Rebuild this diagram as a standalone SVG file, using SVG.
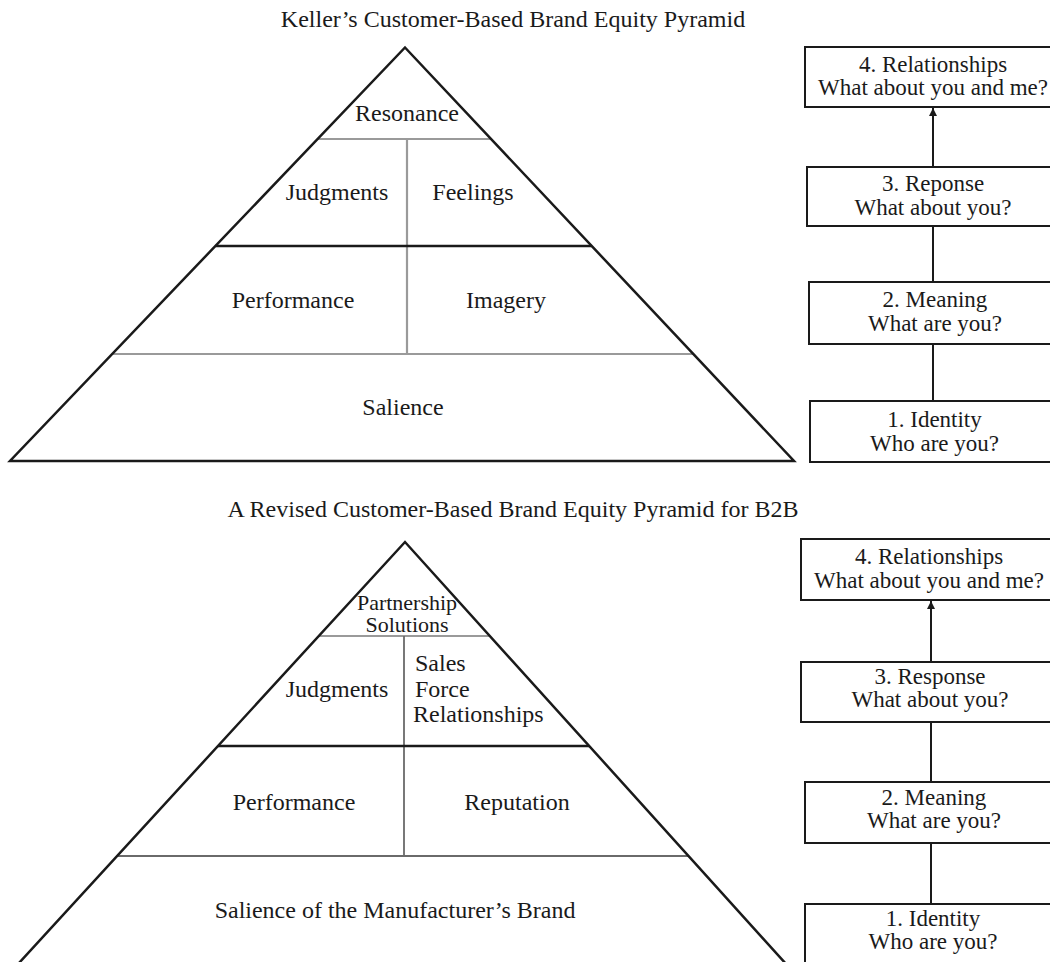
<svg xmlns="http://www.w3.org/2000/svg" width="1050" height="962" viewBox="0 0 1050 962">
<defs>
<style>
text{font-family:"Liberation Serif","Times New Roman",serif;font-size:24px;fill:#1a1a1a}
.c{text-anchor:middle}
.bt{font-size:23px}
.ps{font-size:22px}
.edge{fill:none;stroke:#1a1a1a;stroke-width:2.5;stroke-linejoin:miter}
.mid{stroke:#1a1a1a;stroke-width:2.5}
.gray{stroke:#9a9a9a;stroke-width:2.2}
.gray2{stroke:#6a6a6a;stroke-width:1.8}
.box{fill:#fff;stroke:#1a1a1a;stroke-width:2}
.conn{stroke:#1a1a1a;stroke-width:2;fill:none}
</style>
<marker id="ah" viewBox="0 0 10 10" refX="10" refY="5" markerWidth="4" markerHeight="4" orient="auto" markerUnits="strokeWidth">
<path d="M0,0 L10,5 L0,10 z" fill="#1a1a1a"/>
</marker>
</defs>
<rect width="1050" height="962" fill="#fff"/>

<text id="title1" class="c" x="513" y="27">Keller’s Customer-Based Brand Equity Pyramid</text>

<g id="pyramid1">
<line class="gray" x1="317.6" y1="139" x2="491" y2="139"/>
<line class="gray" x1="407" y1="139" x2="407" y2="354"/>
<line class="gray" x1="112.2" y1="354" x2="693.3" y2="354"/>
<line class="mid" x1="215.4" y1="246" x2="591.7" y2="246"/>
<polygon class="edge" points="405,47.5 794,461 10,461"/>
</g>
<g id="p1-resonance"><text class="c" x="407" y="121">Resonance</text></g>
<g id="p1-judgments"><text class="c" x="337" y="200">Judgments</text></g>
<g id="p1-feelings"><text class="c" x="473" y="200">Feelings</text></g>
<g id="p1-performance"><text class="c" x="293" y="308">Performance</text></g>
<g id="p1-imagery"><text class="c" x="506" y="308">Imagery</text></g>
<g id="p1-salience"><text class="c" x="403" y="415">Salience</text></g>

<g id="connectors1">
<line class="conn" x1="933" y1="167" x2="933" y2="108" marker-end="url(#ah)"/>
<line class="conn" x1="933" y1="282" x2="933" y2="226"/>
<line class="conn" x1="933" y1="401" x2="933" y2="344"/>
</g>
<g id="t-box4">
<rect class="box" x="805" y="47" width="270" height="60"/>
<text class="c bt" x="933" y="72">4. Relationships</text>
<text class="c bt" x="933" y="95">What about you and me?</text>
</g>
<g id="t-box3">
<rect class="box" x="807" y="167" width="270" height="59"/>
<text class="c bt" x="933" y="191">3. Reponse</text>
<text class="c bt" x="933" y="215">What about you?</text>
</g>
<g id="t-box2">
<rect class="box" x="809" y="282" width="270" height="62"/>
<text class="c bt" x="935" y="307">2. Meaning</text>
<text class="c bt" x="935" y="331">What are you?</text>
</g>
<g id="t-box1">
<rect class="box" x="810" y="401" width="270" height="61"/>
<text class="c bt" x="934.5" y="427">1. Identity</text>
<text class="c bt" x="934.5" y="451">Who are you?</text>
</g>

<text id="title2" class="c" x="513" y="517">A Revised Customer-Based Brand Equity Pyramid for B2B</text>

<g id="pyramid2">
<line class="gray" x1="318.8" y1="636" x2="489.8" y2="636"/>
<line class="gray2" x1="404" y1="636" x2="404" y2="856"/>
<line class="gray2" x1="117.2" y1="856" x2="688.3" y2="856"/>
<line class="mid" x1="218" y1="746" x2="589" y2="746"/>
<polyline class="edge" points="8,975 405,542 796,975"/>
</g>
<g id="p2-partnership">
<text class="c ps" x="407" y="610">Partnership</text>
<text class="c ps" x="407" y="632">Solutions</text>
</g>
<g id="p2-judgments"><text class="c" x="337" y="697">Judgments</text></g>
<g id="p2-salesforce">
<text x="415" y="671">Sales</text>
<text x="415" y="697">Force</text>
<text x="413" y="722">Relationships</text>
</g>
<g id="p2-performance"><text class="c" x="294" y="810">Performance</text></g>
<g id="p2-reputation"><text class="c" x="517" y="810">Reputation</text></g>
<g id="p2-salience"><text class="c" x="395" y="918">Salience of the Manufacturer’s Brand</text></g>

<g id="connectors2">
<line class="conn" x1="931" y1="662" x2="931" y2="601" marker-end="url(#ah)"/>
<line class="conn" x1="931" y1="782" x2="931" y2="722"/>
<line class="conn" x1="931" y1="904" x2="931" y2="843"/>
</g>
<g id="b-box4">
<rect class="box" x="801" y="539" width="270" height="61"/>
<text class="c bt" x="929" y="564">4. Relationships</text>
<text class="c bt" x="929" y="588">What about you and me?</text>
</g>
<g id="b-box3">
<rect class="box" x="801" y="662" width="270" height="60"/>
<text class="c bt" x="930" y="684">3. Response</text>
<text class="c bt" x="930" y="707">What about you?</text>
</g>
<g id="b-box2">
<rect class="box" x="805" y="782" width="270" height="61"/>
<text class="c bt" x="934" y="805">2. Meaning</text>
<text class="c bt" x="934" y="828">What are you?</text>
</g>
<g id="b-box1">
<rect class="box" x="805" y="904" width="270" height="70"/>
<text class="c bt" x="933" y="926">1. Identity</text>
<text class="c bt" x="933" y="949">Who are you?</text>
</g>
</svg>
